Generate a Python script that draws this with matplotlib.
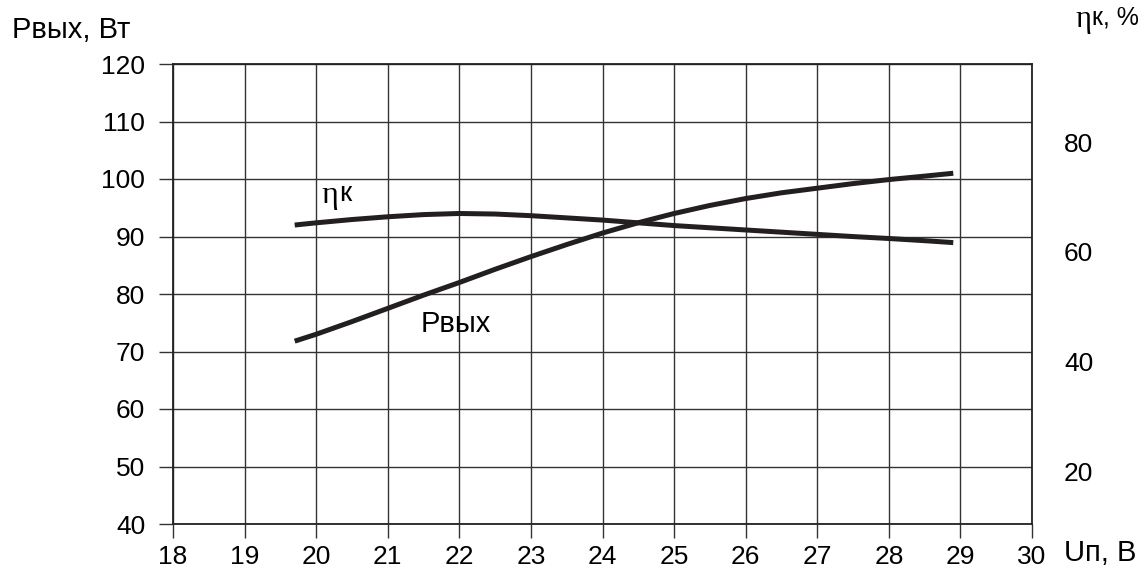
# P_out and efficiency vs supply voltage

import matplotlib
matplotlib.use('Agg')
import matplotlib.pyplot as plt

plt.rcParams['font.family'] = ['Liberation Sans', 'DejaVu Sans']

u_vals = [19.7, 20.0, 20.5, 21.0, 21.5, 22.0, 22.5, 23.0, 23.5, 24.0,
          24.5, 25.0, 25.5, 26.0, 26.5, 27.0, 27.5, 28.0, 28.5, 28.9]
p_out = [71.8, 73.0, 75.2, 77.5, 79.8, 82.0, 84.3, 86.5, 88.6, 90.6,
         92.4, 94.0, 95.4, 96.6, 97.6, 98.4, 99.2, 99.9, 100.5, 101.0]
eff = [64.9, 65.3, 65.9, 66.4, 66.8, 67.0, 66.9, 66.6, 66.2, 65.8,
       65.3, 64.8, 64.4, 64.0, 63.6, 63.2, 62.8, 62.45, 62.05, 61.7]

x_ticks = list(range(18, 31))
left_ticks = list(range(40, 121, 10))
right_ticks = [20, 40, 60, 80]

fs = 19
lfs = 21
ink = '#231f20'

fig = plt.figure(figsize=(11.45, 5.85), dpi=100)
ax = fig.add_axes([173 / 1145, 1 - 524 / 585, (1032 - 173) / 1145, (524 - 64) / 585])

ax.set_xlim(18, 30)
ax.set_ylim(40, 120)
ax.set_xticks(x_ticks)
ax.set_yticks(left_ticks)
ax.grid(True, color='#333333', linewidth=1)
ax.tick_params(axis='both', direction='out', length=10, width=1, labelsize=fs, color='#333333')
ax.tick_params(axis='x', pad=5)
ax.tick_params(axis='y', pad=10)
for s in ax.spines.values():
    s.set_linewidth(1.3)
    s.set_color('#222222')

ax.plot(u_vals, p_out, color=ink, linewidth=3.6, solid_capstyle='butt')

ax2 = ax.twinx()
ax2.set_ylim(10.5, 94.2)
ax2.set_yticks(right_ticks)
ax2.tick_params(axis='y', length=0, labelsize=fs, pad=23)
for s in ax2.spines.values():
    s.set_visible(False)
ax2.plot(u_vals, eff, color=ink, linewidth=3.6, solid_capstyle='butt')

# curve labels
eta = ax.text(20.08, 97.2, 'η', fontsize=lfs + 2, family='Liberation Serif', va='center', ha='left')
ax.annotate('к', xy=(1, 0.5), xycoords=eta, xytext=(0.5, 1), textcoords='offset points',
            fontsize=lfs - 1, va='center', ha='left')
ax.text(21.95, 74.8, 'Pвых', fontsize=lfs, va='center', ha='center')

# axis titles
fig.text(12 / 1145, 1 - 30 / 585, 'Pвых, Вт', fontsize=lfs, va='center', ha='left')
eta2 = fig.text(1075 / 1145, 1 - 19 / 585, 'η', fontsize=lfs + 1, family='Liberation Serif',
                va='center', ha='left')
ax.annotate('к, %', xy=(1, 0.5), xycoords=eta2, xytext=(0.5, 1), textcoords='offset points',
            fontsize=lfs - 3, va='center', ha='left', annotation_clip=False)
fig.text(1064 / 1145, 1 - 553 / 585, 'Uп, В', fontsize=lfs, va='center', ha='left')

fig.savefig('out.png', dpi=100)
